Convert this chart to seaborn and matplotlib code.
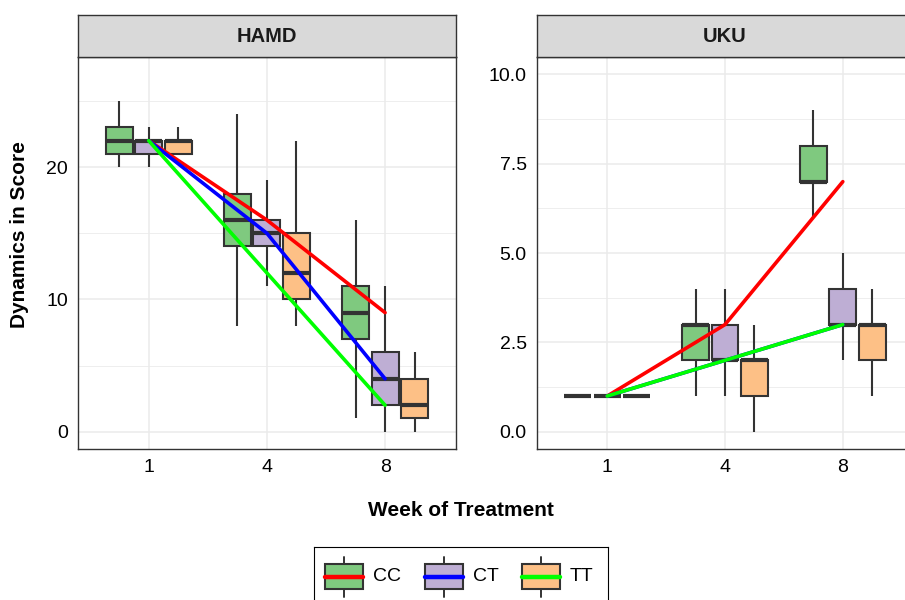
import numpy as np
import pandas as pd
import matplotlib
matplotlib.use("Agg")
import matplotlib.pyplot as plt
from matplotlib.patches import Rectangle
from matplotlib.lines import Line2D
from matplotlib.ticker import MultipleLocator, FormatStrFormatter
import seaborn as sns

weeks = ["1", "4", "8"]
genotypes = ["CC", "CT", "TT"]
panels = ["HAMD", "UKU"]

hamd_cc = [[20, 21, 22, 23, 25], [8, 14, 16, 18, 24], [1, 7, 9, 11, 16]]
hamd_ct = [[20, 21, 22, 22, 23], [11, 14, 15, 16, 19], [0, 2, 4, 6, 11]]
hamd_tt = [[21, 21, 22, 22, 23], [8, 10, 12, 15, 22], [0, 1, 2, 4, 6]]

uku_cc = [[1, 1, 1, 1, 1], [1, 2, 3, 3, 4], [6, 7, 7, 8, 9]]
uku_ct = [[1, 1, 1, 1, 1], [1, 2, 2, 3, 4], [2, 3, 3, 4, 5]]
uku_tt = [[1, 1, 1, 1, 1], [0, 1, 2, 2, 3], [1, 2, 3, 3, 4]]

fill_colors = {"CC": "#7FC97F", "CT": "#BEAED4", "TT": "#FDC086"}
line_colors = {"CC": "#FF0000", "CT": "#0000FF", "TT": "#00FF00"}

summaries = {
    ("HAMD", "CC"): hamd_cc, ("HAMD", "CT"): hamd_ct, ("HAMD", "TT"): hamd_tt,
    ("UKU", "CC"): uku_cc, ("UKU", "CT"): uku_ct, ("UKU", "TT"): uku_tt,
}

rows = []
for (scale, geno), per_week in summaries.items():
    for i, vals in enumerate(per_week):
        for v in vals:
            rows.append((scale, geno, i, v))
df = pd.DataFrame(rows, columns=["scale", "genotype", "pos", "score"])

sns.set_style("white")
plt.rcParams["font.family"] = ["Liberation Sans", "DejaVu Sans"]
plt.rcParams["text.color"] = "black"
plt.rcParams["axes.labelcolor"] = "black"

W, H = 905, 600
fig = plt.figure(figsize=(W / 100, H / 100), dpi=100)


def px_axes(x0, x1, y0, y1):
    return fig.add_axes([x0 / W, 1 - y1 / H, (x1 - x0) / W, (y1 - y0) / H])


# panel layout in pixels (the right facet runs past the image edge, as in the source)
panel_x = {"HAMD": (77.8, 456.0), "UKU": (536.5, 913.5)}
ylims = {"HAMD": (-1.33, 28.3), "UKU": (-0.49, 10.48)}
ysteps = {"HAMD": 10, "UKU": 2.5}
dark = "#333333"

for scale in panels:
    x0, x1 = panel_x[scale]
    ax = px_axes(x0, x1, 57.3, 449.3)
    sub = df[df.scale == scale]

    sns.boxplot(data=sub, x="pos", y="score", hue="genotype", hue_order=genotypes,
                orient="x", palette=fill_colors, saturation=1, width=0.75, gap=0.09,
                linecolor=dark, linewidth=1.5, showcaps=False,
                medianprops=dict(linewidth=3.0), legend=False, ax=ax)
    sns.lineplot(data=sub, x="pos", y="score", hue="genotype", hue_order=genotypes,
                 palette=line_colors, estimator="median", errorbar=None, lw=2.6,
                 legend=False, ax=ax, zorder=4)

    ax.set_xlim(-0.6, len(weeks) - 0.4)
    ax.set_ylim(*ylims[scale])
    ax.set_xticks(range(len(weeks)), weeks)
    ax.yaxis.set_major_locator(MultipleLocator(ysteps[scale]))
    ax.yaxis.set_minor_locator(MultipleLocator(ysteps[scale] / 2))
    if scale == "UKU":
        ax.yaxis.set_major_formatter(FormatStrFormatter("%.1f"))
    ax.set_axisbelow(True)
    ax.grid(which="major", color="#EBEBEB", lw=1.1)
    ax.grid(which="minor", axis="y", color="#EBEBEB", lw=0.6)
    ax.tick_params(which="major", length=4.5, width=1.0, color=dark,
                   labelsize=14, labelcolor="black", pad=2.5)
    ax.tick_params(which="minor", length=0)
    ax.set_xlabel("")
    ax.set_ylabel("")
    for sp in ax.spines.values():
        sp.set_color(dark)
        sp.set_linewidth(1.0)
    if scale == "UKU":
        ax.spines["right"].set_visible(False)

    strip = px_axes(x0, x1, 15.0, 57.3)
    strip.set_facecolor("#D9D9D9")
    strip.set_xticks([])
    strip.set_yticks([])
    for sp in strip.spines.values():
        sp.set_color(dark)
        sp.set_linewidth(1.0)
    strip.text(0.5, 0.5, scale, transform=strip.transAxes, ha="center", va="center",
               fontsize=14.5, fontweight="bold", color="#1a1a1a")

fig.text(461 / W, 1 - 510 / H, "Week of Treatment", ha="center", va="center",
         fontsize=15, fontweight="bold", color="black")
fig.text(20 / W, 1 - 235 / H, "Dynamics in Score", ha="center", va="center",
         rotation=90, fontsize=15, fontweight="bold", color="black")

# legend box, drawn by hand to get the boxplot + line key glyphs
lg = px_axes(314, 607.7, 546.7, 606.7)
lg.set_xlim(314, 607.7)
lg.set_ylim(606.7, 546.7)
lg.set_xticks([])
lg.set_yticks([])
lg.set_facecolor("white")
for sp in lg.spines.values():
    sp.set_color("black")
    sp.set_linewidth(0.8)
key_left = [325, 425, 522]
kc, kw, kh = 576.5, 38, 25
for k, geno in zip(key_left, genotypes):
    lg.add_line(Line2D([k + kw / 2] * 2, [kc - 20, kc + 20], color=dark, lw=1.4))
    lg.add_patch(Rectangle((k, kc - kh / 2), kw, kh, facecolor=fill_colors[geno],
                           edgecolor=dark, lw=1.5, zorder=2))
    lg.add_line(Line2D([k, k + kw], [kc, kc], color=line_colors[geno], lw=3.2, zorder=3))
    lg.text(k + 48, kc, geno, ha="left", va="center", fontsize=14, color="black")

fig.savefig("out.png", dpi=100)
